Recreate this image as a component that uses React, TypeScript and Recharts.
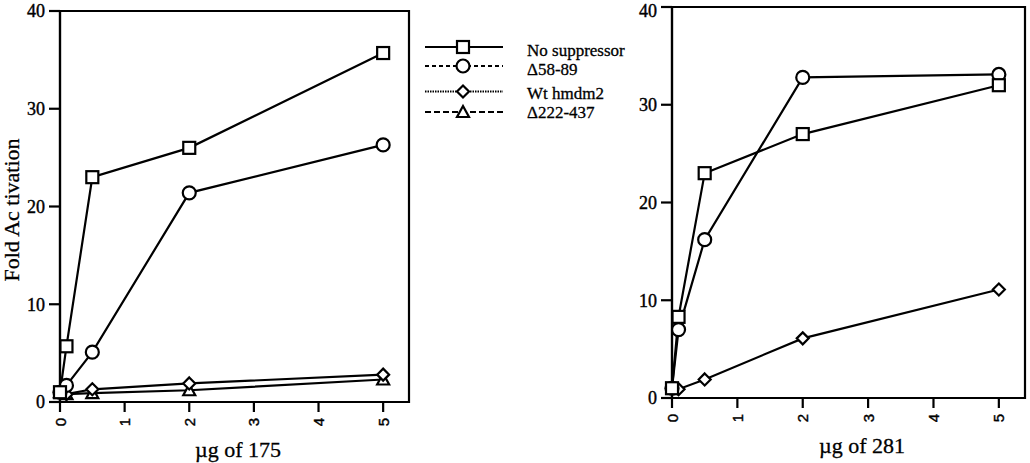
import { LineChart, Line, XAxis, YAxis, ReferenceArea } from "recharts";

// doses (µg) and fold activation
const doses = [0, 0.1, 0.5, 2, 5];
const xTicks = [0, 1, 2, 3, 4, 5];
const yTicks = [0, 10, 20, 30, 40];

const noSup175 = [1, 5.7, 23, 26, 35.7];
const d58_175 = [1, 1.7, 5.1, 21.4, 26.3];
const wt175 = [1, 0.8, 1.3, 1.9, 2.8];
const d222_175 = [1, 0.8, 0.9, 1.2, 2.3];

const noSup281 = [1, 8.3, 23, 27, 32];
const d58_281 = [1, 7, 16.2, 32.8, 33.1];
const wt281 = [1, 0.9, 1.9, 6.1, 11.1];

const legendNames = ["No suppressor", "\u039458-89", "Wt hmdm2", "\u0394222-437"];

const SERIF = "'Liberation Serif', 'Times New Roman', serif";
const SANS = "'Liberation Sans', Arial, sans-serif";

const left = doses.map((x, i) => ({ x, noSup: noSup175[i], d58: d58_175[i], wt: wt175[i], d222: d222_175[i] }));
const right = doses.map((x, i) => ({ x, noSup: noSup281[i], d58: d58_281[i], wt: wt281[i] }));

type Shape = "square" | "circle" | "diamond" | "triangle";

function marker(shape: Shape, cx: number, cy: number, key?: string) {
  const st = { fill: "#fff", stroke: "#000", strokeWidth: 2.2 };
  if (shape === "square") return <rect key={key} x={cx - 6} y={cy - 6} width={12} height={12} {...st} />;
  if (shape === "circle") return <circle key={key} cx={cx} cy={cy} r={6.5} {...st} />;
  if (shape === "diamond")
    return <polygon key={key} points={`${cx},${cy - 6} ${cx + 6},${cy} ${cx},${cy + 6} ${cx - 6},${cy}`} {...st} />;
  return <polygon key={key} points={`${cx},${cy - 6} ${cx + 6},${cy + 5} ${cx - 6},${cy + 5}`} {...st} />;
}

const dotFor = (shape: Shape) => (p: any) => marker(shape, p.cx, p.cy, `${shape}-${p.index}`);

const XTick = (p: any) => {
  const cy = p.y + 8;
  return (
    <text x={p.x} y={cy} transform={`rotate(-90 ${p.x} ${cy})`} textAnchor="middle" dominantBaseline="central"
      fontFamily={SANS} fontSize={15} fill="#000" stroke="#000" strokeWidth={0.4}>
      {p.payload.value}
    </text>
  );
};

function Panel({ data, keys, w, h, margin, yw }: any) {
  const shapes: Record<string, Shape> = { d222: "triangle", wt: "diamond", d58: "circle", noSup: "square" };
  return (
    <LineChart width={w} height={h} data={data} margin={margin}>
      <XAxis type="number" dataKey="x" domain={[0, 5.4]} ticks={xTicks} height={30} tickSize={10}
        axisLine={{ stroke: "#000", strokeWidth: 2.2 }} tickLine={{ stroke: "#000", strokeWidth: 2.2 }} tick={<XTick />} />
      <YAxis type="number" domain={[0, 40]} ticks={yTicks} width={yw} tickSize={11} tickMargin={4}
        axisLine={{ stroke: "#000", strokeWidth: 2.2 }} tickLine={{ stroke: "#000", strokeWidth: 2.2 }}
        tick={{ fill: "#000", stroke: "#000", strokeWidth: 0.4, fontSize: 18, fontFamily: SERIF }} />
      <ReferenceArea x1={0} x2={5.4} y1={0} y2={40} fill="none" stroke="#000" strokeWidth={2.2} />
      {keys.map((k: string) => (
        <Line key={k} type="linear" dataKey={k} stroke="#000" strokeWidth={2.2} dot={dotFor(shapes[k])}
          activeDot={false} isAnimationActive={false} />
      ))}
    </LineChart>
  );
}

const legendRows = [
  { shape: "square" as Shape, dash: undefined, ly: 47, ty: 55.5 },
  { shape: "circle" as Shape, dash: "4 3", ly: 66, ty: 75 },
  { shape: "diamond" as Shape, dash: "1.5 1", ly: 91.5, ty: 99 },
  { shape: "triangle" as Shape, dash: "6 3", ly: 112, ty: 117.5 },
];

const txt = { fontFamily: SERIF, fill: "#000", stroke: "#000", strokeWidth: 0.3 };

export default function App() {
  return (
    <div style={{ position: "absolute", left: 0, top: 0, width: 1030, height: 463, background: "#fff", overflow: "hidden" }}>
      <div style={{ position: "absolute", left: 0, top: 0 }}>
        <Panel data={left} keys={["d222", "wt", "d58", "noSup"]} w={420} h={463} yw={60}
          margin={{ top: 11, right: 11, bottom: 31, left: 0 }} />
      </div>
      <div style={{ position: "absolute", left: 620, top: 0 }}>
        <Panel data={right} keys={["wt", "d58", "noSup"]} w={410} h={463} yw={52}
          margin={{ top: 7, right: 5, bottom: 35, left: 0 }} />
      </div>
      <svg width={1030} height={463} style={{ position: "absolute", left: 0, top: 0, pointerEvents: "none" }}>
        <text x={19} y={210} transform="rotate(-90 19 210)" textAnchor="middle" fontSize={22} {...txt}>
          Fold Ac tivation
        </text>
        <text x={238} y={457} textAnchor="middle" fontSize={22} {...txt}>
          µg of 175
        </text>
        <text x={862} y={453} textAnchor="middle" fontSize={22} {...txt}>
          µg of 281
        </text>
        {legendRows.map((r, i) => (
          <g key={i}>
            <line x1={425} x2={503} y1={r.ly} y2={r.ly} stroke="#000" strokeWidth={2.2} strokeDasharray={r.dash} />
            {marker(r.shape, 463, r.ly)}
            <text x={527} y={r.ty} fontSize={17} {...txt}>
              {legendNames[i]}
            </text>
          </g>
        ))}
      </svg>
    </div>
  );
}
